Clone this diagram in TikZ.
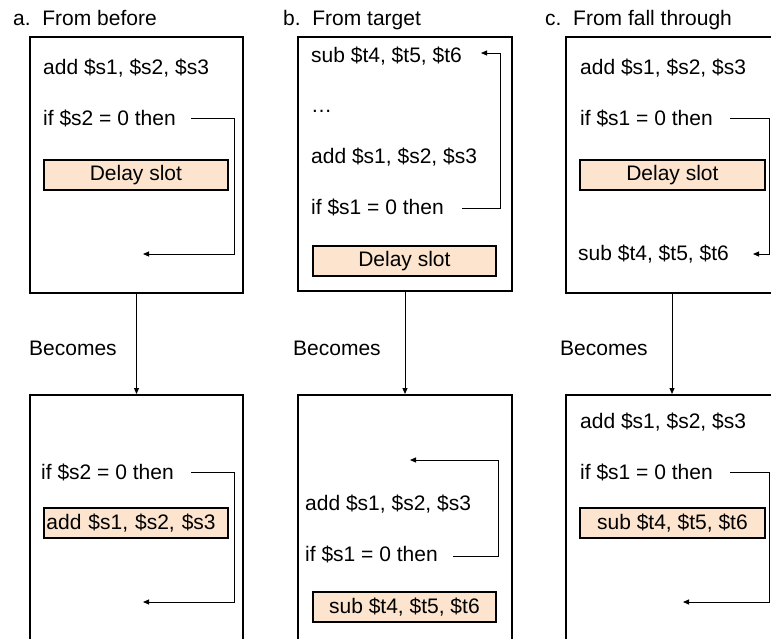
\documentclass[tikz,border=0pt]{standalone}
\usepackage{fontspec}
\setmainfont{Liberation Sans}
\usetikzlibrary{arrows.meta}
\definecolor{peach}{RGB}{252,228,206}
\begin{document}
\begin{tikzpicture}[x=1pt,y=-1pt,
  every node/.style={font=\fontsize{21}{25}\selectfont},
  txt/.style={anchor=base west, inner sep=0pt},
  blk/.style={draw, line width=2pt, anchor=north west, inner sep=0pt},
  slot/.style={draw, line width=1.8pt, fill=peach, anchor=north west, inner sep=0pt, minimum width=184pt, minimum height=30pt},
  link/.style={line width=1pt},
  arr/.style={line width=1pt, -{Triangle[length=6pt,width=5pt]}}]
\useasboundingbox (0,0) rectangle (771,638);

% titles
\node[txt] (ta) at (13,25) {a.\ \ From before};
\node[txt] (tb) at (283,25) {b.\ \ From target};
\node[txt] (tc) at (545,25) {c.\ \ From fall through};

% boxes
\node[blk, minimum width=213pt, minimum height=256pt] (A1) at (29,36) {};
\node[blk, minimum width=214pt, minimum height=254pt] (B1) at (297,36) {};
\node[blk, minimum width=212pt, minimum height=256pt] (C1) at (565,36) {};
\node[blk, minimum width=213pt, minimum height=256pt] (A2) at (29,394) {};
\node[blk, minimum width=214pt, minimum height=256pt] (B2) at (297,394) {};
\node[blk, minimum width=212pt, minimum height=256pt] (C2) at (565,394) {};

% becomes
\draw[arr] (A1.south) -- (A2.north);
\draw[arr] (B1.south) -- (B2.north);
\draw[arr] (C1.south) -- (C2.north);
\node[txt] (ba) at (29,355) {Becomes};
\node[txt] (bb) at (293,355) {Becomes};
\node[txt] (bc) at (560,355) {Becomes};

% ---- a top
\node[txt] (a1add) at (43,74) {add \$s1, \$s2, \$s3};
\node[txt] (a1if) at (43,125) {if \$s2 = 0 then};
\node[slot] (a1d) at (43,159) {Delay slot};
\coordinate (a1s) at (191,118);
\coordinate (a1e) at (143,254);
\draw[arr] (a1s) -- ++(43,0) |- (a1e);

% ---- b top
\node[txt] (b1sub) at (311,62) {sub \$t4, \$t5, \$t6};
\node[txt] (b1dots) at (311,112) {…};
\node[txt] (b1add) at (311,163) {add \$s1, \$s2, \$s3};
\node[txt] (b1if) at (311,214) {if \$s1 = 0 then};
\node[slot, minimum width=183pt] (b1d) at (312,245) {Delay slot};
\coordinate (b1s) at (462,208);
\coordinate (b1e) at (481,53);
\draw[arr] (b1s) -- ++(38,0) |- (b1e);

% ---- c top
\node[txt] (c1add) at (580,74) {add \$s1, \$s2, \$s3};
\node[txt] (c1if) at (580,125) {if \$s1 = 0 then};
\node[slot, minimum width=185pt] (c1d) at (579,159) {Delay slot};
\node[txt] (c1sub) at (578,260) {sub \$t4, \$t5, \$t6};
\coordinate (c1s) at (730,118);
\coordinate (c1e) at (753,254);
\draw[arr] (c1s) -- ++(39,0) |- (c1e);

% ---- a bottom
\node[txt] (a2if) at (41,479) {if \$s2 = 0 then};
\node[slot, text width=179pt, inner xsep=2.5pt, align=left] (a2d) at (43,507) {add \$s1, \$s2, \$s3};
\coordinate (a2s) at (191,472);
\coordinate (a2e) at (143,602);
\draw[arr] (a2s) -- ++(43,0) |- (a2e);

% ---- b bottom
\node[txt] (b2add) at (305,510) {add \$s1, \$s2, \$s3};
\node[txt] (b2if) at (305,561) {if \$s1 = 0 then};
\node[slot, minimum width=183pt] (b2d) at (312,591) {sub \$t4, \$t5, \$t6};
\coordinate (b2s) at (453,556);
\coordinate (b2e) at (410,460);
\draw[arr] (b2s) -- ++(45,0) |- (b2e);

% ---- c bottom
\node[txt] (c2add) at (580,428) {add \$s1, \$s2, \$s3};
\node[txt] (c2if) at (580,479) {if \$s1 = 0 then};
\node[slot, minimum width=185pt] (c2d) at (579,507) {sub \$t4, \$t5, \$t6};
\coordinate (c2s) at (730,472);
\coordinate (c2e) at (683,602);
\draw[arr] (c2s) -- ++(39,0) |- (c2e);
\end{tikzpicture}
\end{document}
